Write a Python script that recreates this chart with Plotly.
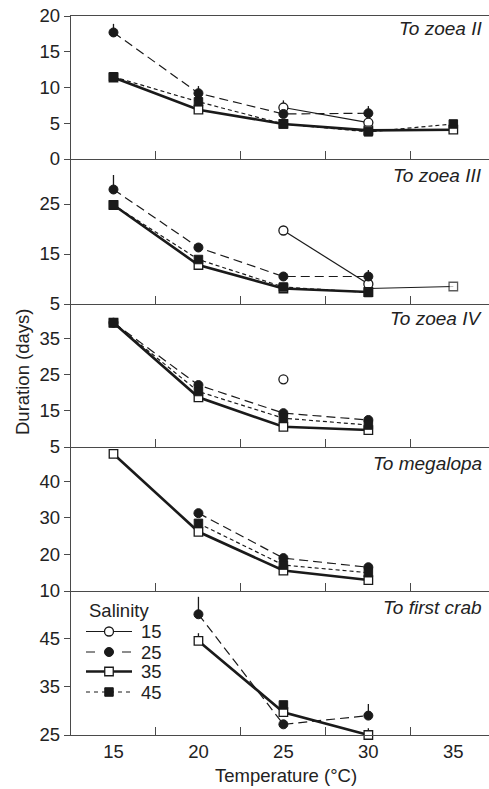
import plotly.graph_objects as go

temps = [15, 20, 25, 30, 35]

# Panel 1: To zoea II
p1_s15 = [None, None, 7.2, 5.1, None]
p1_s15_err = [0, 0, 1.0, 0, 0]
p1_s25 = [17.7, 9.2, 6.3, 6.4, None]
p1_s25_err = [1.2, 1.0, 0, 1.0, 0]
p1_s35 = [11.4, 6.9, 4.9, 4.0, 4.1]
p1_s45 = [11.5, 8.0, 4.9, 3.8, 4.9]

# Panel 2: To zoea III
p2_s15 = [None, None, 19.7, 9.0, None]
p2_s25 = [27.9, 16.3, 10.5, 10.5, None]
p2_s25_err = [2.9, 0, 0, 1.3, 0]
p2_s35 = [24.8, 12.8, 8.1, 7.4, None]
p2_s35_ext_t = [30, 35]
p2_s35_ext = [8.1, 8.5]
p2_s45 = [24.8, 13.9, 8.4, 7.3, None]

# Panel 3: To zoea IV
p3_s15 = [None, None, 23.8, None, None]
p3_s25 = [39.5, 22.2, 14.4, 12.5, None]
p3_s35 = [39.5, 18.8, 10.6, 9.7, None]
p3_s45 = [39.5, 20.4, 13.0, 11.1, None]

# Panel 4: To megalopa
p4_s25 = [None, 31.3, 19.0, 16.5, None]
p4_s35 = [47.5, 26.2, 15.6, 13.0, None]
p4_s45 = [None, 28.5, 17.1, 15.0, None]

# Panel 5: To first crab
p5_s25 = [None, 49.9, 27.2, 29.0, None]
p5_s25_err = [0, 3.6, 0, 2.4, 0]
p5_s35 = [None, 44.4, 29.7, 25.0, None]
p5_s35_err = [0, 1.6, 0, 1.4, 0]
p5_s45 = [None, None, 31.2, None, None]

panel_titles = ["To zoea II", "To zoea III", "To zoea IV", "To megalopa", "To first crab"]
y_ranges = [[0, 20], [5, 34], [5, 44.7], [10, 49.4], [25, 54.7]]
y_ticks = [[0, 5, 10, 15, 20], [5, 15, 25], [5, 15, 25, 35], [10, 20, 30, 40], [25, 35, 45]]
salinity_labels = ["15", "25", "35", "45"]
x_tick_labels = ["15", "20", "25", "30", "35"]
x_minor_ticks = [17.5, 22.5, 27.5, 32.5]

INK = "#1a1a1a"
AX = "#4a4a4a"
FONT = "Liberation Sans, Arial, sans-serif"
FS = 18.5

styles = {
    "15": dict(line=dict(color=INK, width=1.2, dash="solid"),
               marker=dict(symbol="circle", size=9, color="white", line=dict(color=INK, width=1.3))),
    "25": dict(line=dict(color=INK, width=1.2, dash="9px,5px"),
               marker=dict(symbol="circle", size=9, color=INK, line=dict(color=INK, width=1))),
    "35": dict(line=dict(color=INK, width=2.6, dash="solid"),
               marker=dict(symbol="square", size=8.5, color="white", line=dict(color=INK, width=1.3))),
    "45": dict(line=dict(color=INK, width=1.2, dash="4px,3px"),
               marker=dict(symbol="square", size=8.5, color=INK, line=dict(color=INK, width=1))),
}
legend_dash = {"15": "solid", "25": "9px,27px", "35": "solid", "45": "4px,4px"}

fig = go.Figure()


def add(panel, sal, xs, ys, err=None, line_override=None, marker_sizes=None):
    st = styles[sal]
    line = dict(st["line"])
    if line_override:
        line.update(line_override)
    marker = dict(st["marker"])
    if marker_sizes is not None:
        marker["size"] = marker_sizes
    kw = dict(x=xs, y=ys, mode="lines+markers",
              line=line, marker=marker, showlegend=False, cliponaxis=False,
              connectgaps=False,
              xaxis="x" if panel == 1 else f"x{panel}",
              yaxis="y" if panel == 1 else f"y{panel}")
    if err is not None:
        kw["error_y"] = dict(type="data", symmetric=False, array=err,
                             arrayminus=[0] * len(err), width=0, thickness=1.3, color=INK)
    fig.add_trace(go.Scatter(**kw))


# Panel 1
add(1, "15", temps, p1_s15, p1_s15_err)
add(1, "25", temps, p1_s25, p1_s25_err)
add(1, "35", temps, p1_s35)
add(1, "45", temps, p1_s45)
# Panel 2
add(2, "15", temps, p2_s15)
add(2, "25", temps, p2_s25, p2_s25_err)
add(2, "35", temps, p2_s35)
add(2, "35", p2_s35_ext_t, p2_s35_ext, line_override=dict(width=1.2), marker_sizes=[0, 8.5])
add(2, "45", temps, p2_s45)
# Panel 3
add(3, "15", temps, p3_s15)
add(3, "25", temps, p3_s25)
add(3, "35", temps, p3_s35)
add(3, "45", temps, p3_s45)
# Panel 4
add(4, "25", temps, p4_s25)
add(4, "35", temps, p4_s35)
add(4, "45", temps, p4_s45)
# Panel 5
add(5, "25", temps, p5_s25, p5_s25_err)
add(5, "35", temps, p5_s35, p5_s35_err)
add(5, "45", temps, p5_s45)

# geometry (pixels)
W, H = 489, 789
L, R, T, B = 71, 0, 16, 54
PH = H - T - B  # plot height
PW = W - L - R
bounds_px = [16, 159, 304, 447, 591, 735]


def py(p):
    return (H - B - p) / PH


def px(p):
    return (p - L) / PW


layout = dict(
    width=W, height=H,
    margin=dict(l=L, r=R, t=T, b=B, pad=0),
    paper_bgcolor="white", plot_bgcolor="rgba(0,0,0,0)",
    font=dict(family=FONT, size=FS, color="#222"),
    showlegend=False,
)

for i in range(5):
    n = i + 1
    xa = "xaxis" if n == 1 else f"xaxis{n}"
    ya = "yaxis" if n == 1 else f"yaxis{n}"
    top = py(bounds_px[i])
    bot = py(bounds_px[i + 1])
    layout[xa] = dict(
        domain=[0, 1], range=[12.5, 37.1], anchor="y" if n == 1 else f"y{n}",
        showline=True, linecolor=AX, linewidth=1.4, mirror=(n == 1),
        showgrid=False, zeroline=False,
        tickmode="array", tickvals=temps, ticktext=x_tick_labels,
        ticks="inside", ticklen=0, tickcolor=AX,
        showticklabels=(n == 5),
        tickfont=dict(size=FS, family=FONT, color="#222"),
        minor=dict(tickmode="array", tickvals=x_minor_ticks, ticks="inside",
                   ticklen=8, tickwidth=1.3, tickcolor=AX, showgrid=False),
    )
    layout[ya] = dict(
        domain=[bot, top], range=y_ranges[i], anchor="x" if n == 1 else f"x{n}",
        showline=True, linecolor=AX, linewidth=1.4,
        showgrid=False, zeroline=False,
        tickmode="array", tickvals=y_ticks[i],
        ticks="outside", ticklen=6, tickwidth=1.3, tickcolor=AX,
        tickfont=dict(size=FS, family=FONT, color="#222"),
    )

# legend axes (overlay, invisible)
layout["xaxis6"] = dict(domain=[0, 1], range=[0, 1], anchor="y6", visible=False, fixedrange=True)
layout["yaxis6"] = dict(domain=[0, 1], range=[0, 1], anchor="x6", visible=False, fixedrange=True)

annotations = []
title_y_px = [28, 175, 319, 463, 607]
for t, yp in zip(panel_titles, title_y_px):
    annotations.append(dict(text=f"<i>{t}</i>", x=px(484), y=py(yp), xref="paper", yref="paper",
                            xanchor="right", yanchor="middle", showarrow=False,
                            font=dict(size=19, family=FONT, color="#222")))

annotations.append(dict(text="Duration (days)", x=px(22), y=py(372), xref="paper", yref="paper",
                        xanchor="center", yanchor="middle", textangle=-90, showarrow=False,
                        font=dict(size=18.5, family=FONT, color="#222")))
annotations.append(dict(text="Temperature (°C)", x=px(286), y=py(775), xref="paper", yref="paper",
                        xanchor="center", yanchor="middle", showarrow=False,
                        font=dict(size=18.5, family=FONT, color="#222")))

# legend
annotations.append(dict(text="Salinity", x=px(87), y=py(610), xref="paper", yref="paper",
                        xanchor="left", yanchor="middle", showarrow=False,
                        font=dict(size=18.5, family=FONT, color="#222")))
leg_rows = [631.5, 652, 671.5, 692]
for sal, yr in zip(salinity_labels, leg_rows):
    st = styles[sal]
    fig.add_trace(go.Scatter(
        x=[px(86), px(132)], y=[py(yr)] * 2, mode="lines",
        line=dict(st["line"], dash=legend_dash[sal]),
        xaxis="x6", yaxis="y6", showlegend=False, cliponaxis=False, hoverinfo="skip"))
    fig.add_trace(go.Scatter(
        x=[px(109)], y=[py(yr)], mode="markers", marker=st["marker"],
        xaxis="x6", yaxis="y6", showlegend=False, cliponaxis=False, hoverinfo="skip"))
    annotations.append(dict(text=sal, x=px(139), y=py(yr), xref="paper", yref="paper",
                            xanchor="left", yanchor="middle", showarrow=False,
                            font=dict(size=18.5, family=FONT, color="#222")))

layout["annotations"] = annotations
fig.update_layout(**layout)
fig.write_html("out.html", config={"displayModeBar": False},
               post_script="document.body.style.margin='0';document.body.style.overflow='hidden';")
